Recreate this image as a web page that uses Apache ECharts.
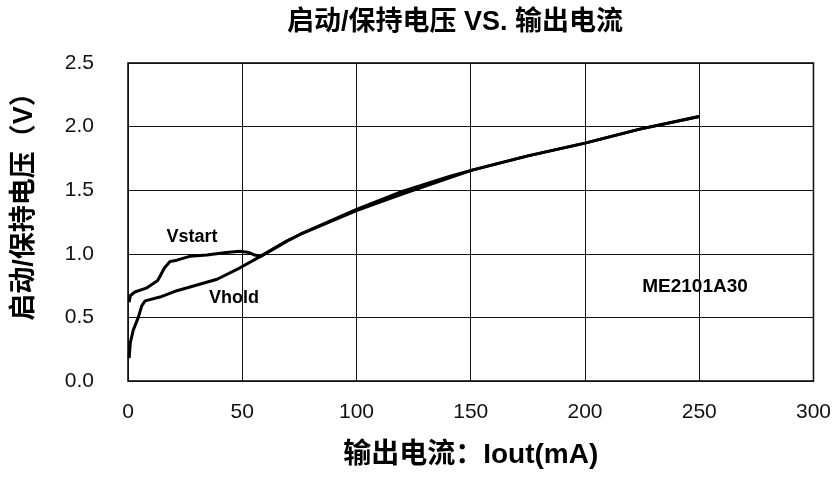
<!DOCTYPE html>
<html>
<head>
<meta charset="utf-8">
<script src="https://cdn.jsdelivr.net/npm/echarts@6/dist/echarts.min.js"></script>
<style>
html,body{margin:0;padding:0;background:#fff;}
#c{width:834px;height:477px;}
</style>
</head>
<body>
<div id="c"></div>
<script>
// ---- data ----
var vstartX = [0.5, 1, 3, 8, 13, 16, 18.4, 21.4, 27, 34.5, 43, 49, 53, 55.5, 58, 69.5, 75, 100, 120, 141, 151, 175, 200, 224, 250];
var vstartY = [0.62, 0.67, 0.70, 0.73, 0.79, 0.89, 0.94, 0.95, 0.98, 0.99, 1.01, 1.02, 1.01, 0.99, 0.98, 1.10, 1.15, 1.35, 1.49, 1.61, 1.66, 1.77, 1.87, 1.98, 2.08];
var vholdX = [0.5, 1, 2.3, 4.5, 6, 7.5, 14, 21.4, 39, 49, 58, 69.5, 75, 100, 120, 141, 151, 175, 200, 224, 250];
var vholdY = [0.18, 0.30, 0.40, 0.50, 0.59, 0.63, 0.66, 0.71, 0.80, 0.89, 0.98, 1.10, 1.15, 1.34, 1.47, 1.60, 1.66, 1.77, 1.87, 1.98, 2.08];
var xTicks = [0, 50, 100, 150, 200, 250, 300];
var yTicks = [0.0, 0.5, 1.0, 1.5, 2.0, 2.5];
var titleText = '启动/保持电压 VS. 输出电流';
var xName = '输出电流：Iout(mA)';
var yName = '启动/保持电压（V）';
var labelVstart = 'Vstart';
var labelVhold = 'Vhold';
var labelModel = 'ME2101A30';

function pairs(xs, ys){ return xs.map(function(x,i){ return [x, ys[i]]; }); }

var cjk = '"Liberation Sans", "Noto Sans CJK SC", sans-serif';
var chart = echarts.init(document.getElementById('c'), null, {renderer:'canvas'});
chart.setOption({
  animation:false,
  backgroundColor:'#fff',
  title:{
    text:titleText, left:282, top:4,
    textStyle:{fontFamily:cjk, fontSize:27, fontWeight:'bold', color:'#000'}
  },
  grid:{left:128, right:20, top:63, bottom:96, show:true, borderColor:'#000', borderWidth:1.5},
  xAxis:{
    type:'value', min:0, max:300, interval:50,
    name:xName, nameLocation:'middle', nameGap:60,
    nameTextStyle:{fontFamily:cjk, fontSize:28, fontWeight:'bold', color:'#000'},
    axisLine:{show:false}, axisTick:{show:false},
    axisLabel:{margin:21, fontFamily:'"Liberation Sans", sans-serif', fontSize:21, color:'#111',
      formatter:function(v){ return xTicks.indexOf(v) >= 0 ? String(v) : ''; }},
    splitLine:{show:true, lineStyle:{color:'#111', width:1}}
  },
  yAxis:{
    type:'value', min:0, max:2.5, interval:0.5,
    name:yName, nameLocation:'middle', nameGap:90,
    nameTextStyle:{fontFamily:cjk, fontSize:27, fontWeight:'bold', color:'#000', padding:[0,0,0,44]},
    axisLine:{show:false}, axisTick:{show:false},
    axisLabel:{margin:34, fontFamily:'"Liberation Sans", sans-serif', fontSize:21, color:'#111',
      formatter:function(v){ return v.toFixed(1); }},
    splitLine:{show:true, lineStyle:{color:'#111', width:1}}
  },
  series:[
    {name:'Vstart', type:'line', data:pairs(vstartX, vstartY), showSymbol:false, symbol:'none',
     lineStyle:{color:'#000', width:3}, smooth:false},
    {name:'Vhold', type:'line', data:pairs(vholdX, vholdY), showSymbol:false, symbol:'none',
     lineStyle:{color:'#000', width:3}, smooth:false}
  ],
  graphic:[
    {type:'text', x:192, y:237, style:{text:labelVstart, fontFamily:'"Liberation Sans", Arial, sans-serif', fontSize:18, fontWeight:'bold', fill:'#000', align:'center', verticalAlign:'middle'}},
    {type:'text', x:234, y:298, style:{text:labelVhold, fontFamily:'"Liberation Sans", Arial, sans-serif', fontSize:18, fontWeight:'bold', fill:'#000', align:'center', verticalAlign:'middle'}},
    {type:'text', x:695, y:287, style:{text:labelModel, fontFamily:'"Liberation Sans", Arial, sans-serif', fontSize:19, fontWeight:'bold', fill:'#000', align:'center', verticalAlign:'middle'}}
  ]
});
</script>
</body>
</html>
